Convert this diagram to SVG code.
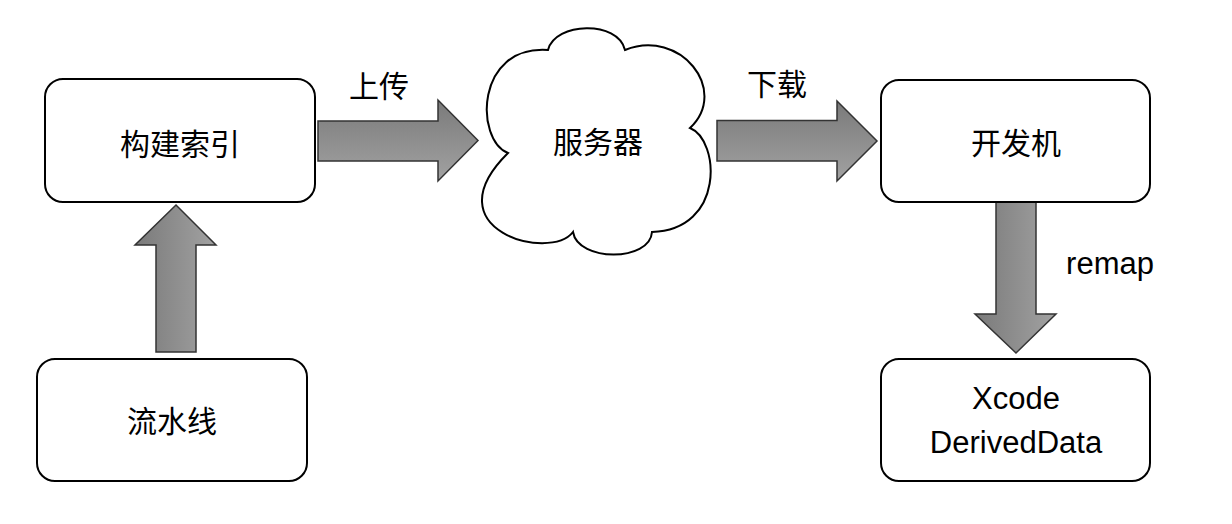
<svg xmlns="http://www.w3.org/2000/svg" width="1232" height="524" viewBox="0 0 1232 524">
<defs>
<linearGradient id="gv" x1="0" y1="0" x2="0" y2="1"><stop offset="0" stop-color="#7a7a7a"/><stop offset="1" stop-color="#a2a2a2"/></linearGradient>
<linearGradient id="gh" x1="0" y1="0" x2="1" y2="0"><stop offset="0" stop-color="#7a7a7a"/><stop offset="1" stop-color="#a2a2a2"/></linearGradient>
</defs>
<style>
.box{fill:#fff;stroke:#000;stroke-width:2}
.cjk{font-family:"Noto Sans CJK SC","Liberation Sans",sans-serif;font-size:30px;fill:#000;text-anchor:middle}
.lat{font-family:"Liberation Sans","Noto Sans CJK SC",sans-serif;font-size:31px;fill:#000;text-anchor:middle}
.arr{stroke:#333;stroke-width:1.5;stroke-linejoin:miter}
</style>
<rect width="1232" height="524" fill="#fff"/>
<g id="connectors">
<path class="arr" fill="url(#gv)" d="M318 121 H438 V100 L478 140.5 L438 181 V161 H318 Z"/>
<path class="arr" fill="url(#gv)" d="M717 120.5 H837 V101 L877 141 L837 181 V161 H717 Z"/>
<path class="arr" fill="url(#gh)" d="M156 352 V245 H135 L176 205 L216 245 H196 V352 Z"/>
<path class="arr" fill="url(#gh)" d="M996 202 V314 H975 L1016 353 L1056 314 H1036 V202 Z"/>
<text class="cjk" x="379" y="97">上传</text>
<text class="cjk" x="777" y="95">下载</text>
<text class="lat" x="1110" y="274">remap</text>
</g>
<g id="node-build">
<rect class="box" x="45" y="79" width="270" height="123" rx="18"/>
<text class="cjk" x="180" y="155">构建索引</text>
</g>
<g id="node-server">
<path class="box" d="M548 50 C555 22 618 20 625 50 C680 28 730 90 690 128 C720 140 725 230 652 232 C650 262 578 262 573 232 C550 262 430 230 508 153 C475 140 475 45 548 50 Z"/>
<text class="cjk" x="598" y="153">服务器</text>
</g>
<g id="node-dev">
<rect class="box" x="881" y="80" width="269" height="122" rx="18"/>
<text class="cjk" x="1016" y="154">开发机</text>
</g>
<g id="node-pipeline">
<rect class="box" x="37" y="359" width="270" height="122" rx="18"/>
<text class="cjk" x="172" y="432">流水线</text>
</g>
<g id="node-xcode">
<rect class="box" x="881" y="359" width="269" height="122" rx="18"/>
<text class="lat" x="1016" y="409">Xcode</text>
<text class="lat" x="1016" y="453">DerivedData</text>
</g>
</svg>
